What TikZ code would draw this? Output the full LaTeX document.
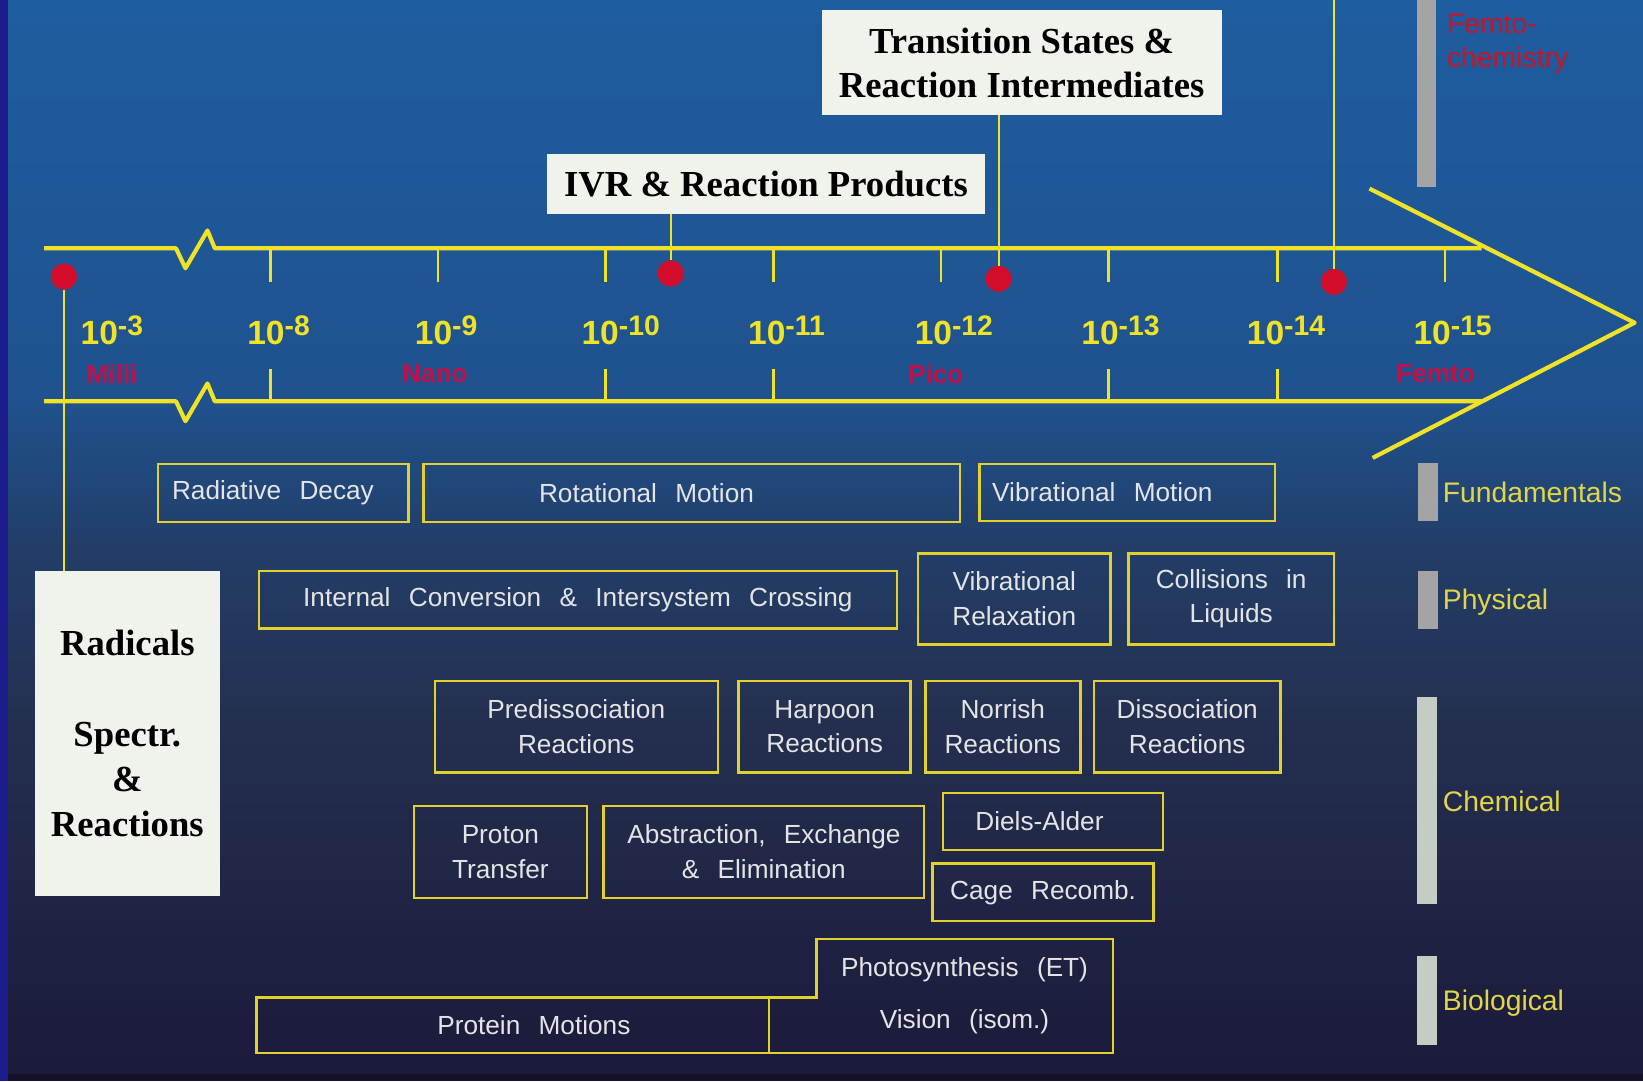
\documentclass[tikz,border=0pt]{standalone}
\usepackage{fontspec}
\setmainfont{Liberation Sans}
\newfontfamily\titlefamily{Liberation Serif}
\usetikzlibrary{calc}

\definecolor{bgtop}{RGB}{30,93,160}
\definecolor{bgup}{RGB}{31,82,142}
\definecolor{bgmid}{RGB}{34,62,105}
\definecolor{bglow}{RGB}{36,48,80}
\definecolor{bgbot}{RGB}{27,26,58}
\definecolor{edgeblue}{RGB}{28,28,140}
\definecolor{axisyellow}{RGB}{240,226,38}
\definecolor{boxyellow}{RGB}{226,208,44}
\definecolor{proctext}{RGB}{228,228,228}
\definecolor{dotred}{RGB}{212,12,44}
\definecolor{unitred}{RGB}{190,18,74}
\definecolor{femtored}{RGB}{200,20,40}
\definecolor{catyellow}{RGB}{226,214,72}
\definecolor{titlefill}{RGB}{240,242,236}
\definecolor{bargray}{RGB}{164,164,164}
\definecolor{barlight}{RGB}{196,204,196}

\newcommand\procfont{\fontsize{12.5}{16.5}\selectfont\spaceskip=0.7em\relax}
\newcommand\titlefont{\titlefamily\bfseries\fontsize{17.5}{21}\selectfont}
\newcommand\powfont{\bfseries\fontsize{16}{18}\selectfont}
\newcommand\unitfont{\bfseries\fontsize{12.5}{15}\selectfont}
\newcommand\catfont{\fontsize{13.5}{16}\selectfont}
\newcommand\tpow[1]{10\raisebox{4.5pt}{\fontsize{13.5}{14}\selectfont -#1}}

\begin{document}
\begin{tikzpicture}[x=0.5pt, y=-0.5pt,
	every node/.style={inner sep=0pt, outer sep=0pt},
	boxsz/.style 2 args={minimum width=#1*0.5pt, minimum height=#2*0.5pt},
	procbox/.style={draw=boxyellow, line width=1.2pt, text=proctext, align=center, font=\procfont},
	titlebox/.style={fill=titlefill, text=black, align=center, font=\titlefont},
	reddot/.style={circle, fill=dotred, minimum size=12.5pt},
	powlbl/.style={anchor=base west, text=axisyellow, font=\powfont},
	unitlbl/.style={text=unitred, font=\unitfont},
	catlbl/.style={anchor=base west, text=catyellow, font=\catfont},
	axisline/.style={draw=axisyellow, line width=2pt, line join=round},
	tickline/.style={draw=axisyellow, line width=1.2pt},
	conline/.style={draw=axisyellow, line width=1pt}
]
\useasboundingbox (0,0) rectangle (1568,1032);

% background
\shade[top color=bgtop, bottom color=bgup] (0,0) rectangle (1568,381);
\shade[top color=bgup, bottom color=bgmid] (0,380) rectangle (1568,521);
\shade[top color=bgmid, bottom color=bglow] (0,520) rectangle (1568,681);
\shade[top color=bglow, bottom color=bgbot] (0,680) rectangle (1568,1026);
\fill[bgbot!70!black] (0,1025) rectangle (1568,1032);
\fill[edgeblue] (0,0) rectangle (8,1032);

% time axis
\draw[axisline] (42,237) -- (168,237) -- (177,256) -- (198,220) -- (205,237) -- (1414,237);
\draw[axisline] (42,383) -- (168,383) -- (177,402) -- (198,366) -- (205,383) -- (1414,383);
\draw[axisline] (1307,180) -- (1560,308) -- (1310,437);
\foreach \x in {258,418,578,738,898,1058,1219,1379}
	\draw[tickline] (\x,237) -- ++(0,32);
\foreach \x in {258,578,738,1058,1219}
	\draw[tickline] (\x,383) -- ++(0,-31);

\node[powlbl] (P3) at (77,329) {\tpow{3}};
\node[powlbl] (P8) at (236,329) {\tpow{8}};
\node[powlbl] (P9) at (396,329) {\tpow{9}};
\node[powlbl] (P10) at (555,329) {\tpow{10}};
\node[powlbl] (P11) at (714,329) {\tpow{11}};
\node[powlbl] (P12) at (873,329) {\tpow{12}};
\node[powlbl] (P13) at (1032,329) {\tpow{13}};
\node[powlbl] (P14) at (1190,329) {\tpow{14}};
\node[powlbl] (P15) at (1349,329) {\tpow{15}};

\node[unitlbl] (Mi) at (107,357) {Milli};
\node[unitlbl] (Na) at (415,357) {Nano};
\node[unitlbl] (Pi) at (893,357) {Pico};
\node[unitlbl] (Fe) at (1370,357) {Femto};

% probes
\node[titlebox, boxsz={418}{57}] (IVR) at (731,175.5) {IVR \& Reaction Products};
\node[titlebox, boxsz={382}{100}] (TS) at (975,60) {Transition States \&\\Reaction Intermediates};
\node[titlebox, boxsz={177}{310}, font=\titlefamily\bfseries\fontsize{17.5}{21.5}\selectfont] (RA) at (121.5,700)
	{Radicals\\[21.5pt]Spectr.\\\&\\Reactions};

\node[reddot] (D1) at (61,264) {};
\node[reddot] (D2) at (640,261) {};
\node[reddot] (D3) at (953,266) {};
\node[reddot] (D4) at (1273,269) {};
\coordinate (FT) at (1273,0);

\draw[conline] (D1) -- (D1 |- RA.north);
\draw[conline] (IVR.south -| D2) -- (D2);
\draw[conline] (TS.south -| D3) -- (D3);
\draw[conline] (FT) -- (D4);

% processes
\node[procbox, boxsz={239}{55}] (RD) at (270.5,470.5) {Radiative Decay\hspace*{10pt}};
\node[procbox, boxsz={512}{55}] (RM) at (660,470.5) {Rotational Motion\hspace*{43pt}};
\node[procbox, boxsz={282}{54}] (VM) at (1076,470) {Vibrational Motion\hspace*{24pt}};

\node[procbox, boxsz={609}{55}] (IC) at (551.5,572.5) {Internal Conversion \& Intersystem Crossing};
\node[procbox, boxsz={184}{87}] (VR) at (968,571.5) {Vibrational\\Relaxation};
\node[procbox, boxsz={196}{87}] (CL) at (1175,571.5) {Collisions in\\Liquids};

\node[procbox, boxsz={270}{87}] (PR) at (550,693.5) {Predissociation\\Reactions};
\node[procbox, boxsz={164}{87}] (HR) at (787,693.5) {Harpoon\\Reactions};
\node[procbox, boxsz={148}{87}] (NR) at (957,693.5) {Norrish\\Reactions};
\node[procbox, boxsz={178}{87}] (DR) at (1133,693.5) {Dissociation\\Reactions};

\node[procbox, boxsz={165}{88}] (PT) at (477.5,813) {Proton\\Transfer};
\node[procbox, boxsz={306}{88}] (AE) at (729,813) {Abstraction, Exchange\\\& Elimination};
\node[procbox, boxsz={210}{54}] (DA) at (1005,784) {Diels-Alder\hspace*{13pt}};
\node[procbox, boxsz={211}{55}] (CR) at (995.5,851.5) {Cage Recomb.};

\node[procbox, boxsz={489}{53}] (PM) at (489.5,978.5) {\hspace*{20pt}Protein Motions};
\node[procbox, draw=none, boxsz={283}{109}] (PV) at (920.5,950.5) {Photosynthesis (ET)\\[8.5pt]Vision (isom.)};
\draw[boxyellow, line width=1.2pt] (PM.north east) -- (PV.west |- PM.north) |- (PV.north east) |- (PM.south east);

% categories
\fill[bargray] (1352,0) rectangle (1370,178);
\fill[bargray] (1353,442) rectangle (1372,497);
\fill[bargray] (1353,545) rectangle (1372,600);
\fill[barlight] (1352,665) rectangle (1371,863);
\fill[barlight] (1352,912) rectangle (1371,997);

\node[catlbl, text=femtored] (C0a) at (1381,32) {Femto-};
\node[catlbl, text=femtored] (C0b) at (1381,64) {chemistry};
\node[catlbl] (C1) at (1377,480) {Fundamentals};
\node[catlbl] (C2) at (1377,582) {Physical};
\node[catlbl] (C3) at (1377,774) {Chemical};
\node[catlbl] (C4) at (1377,964) {Biological};
\end{tikzpicture}
\end{document}
